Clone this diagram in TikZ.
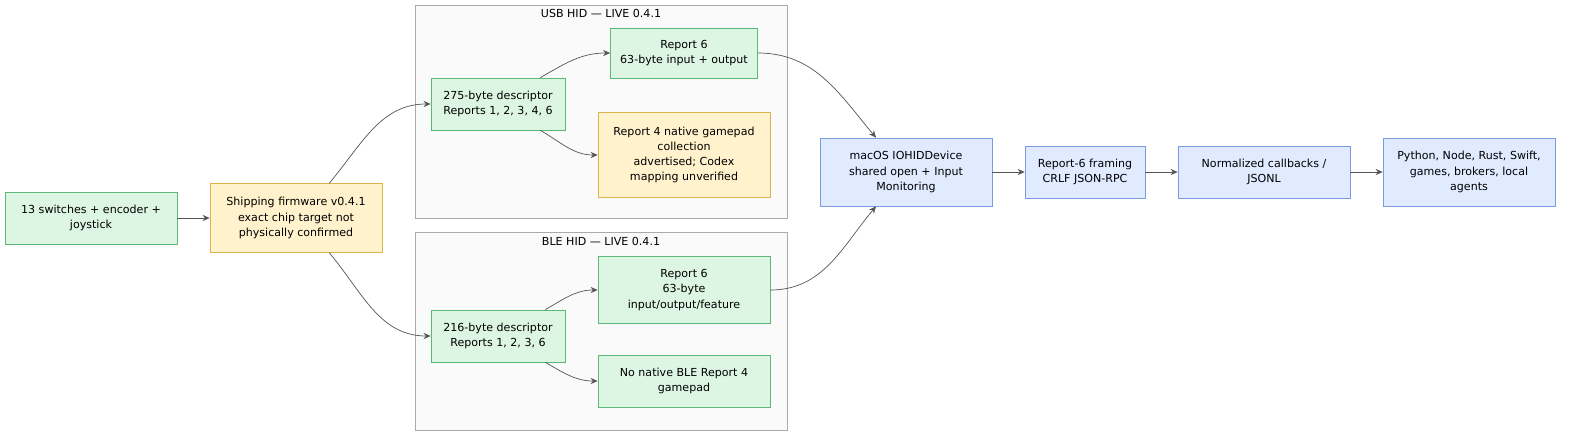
\documentclass[tikz,border=0pt]{standalone}
\usepackage{fontspec}
\setmainfont{DejaVu Sans}
\usetikzlibrary{arrows.meta}
\definecolor{grnF}{HTML}{DDF6E3}\definecolor{grnD}{HTML}{5DB878}
\definecolor{ylwF}{HTML}{FFF2CC}\definecolor{ylwD}{HTML}{D9B44A}
\definecolor{bluF}{HTML}{E0EBFF}\definecolor{bluD}{HTML}{7A9BE0}
\definecolor{grpF}{HTML}{FAFAFA}\definecolor{grpD}{HTML}{AAAAAA}
\definecolor{edg}{HTML}{555555}

\begin{document}
\begin{tikzpicture}[x=0.02cm, y=-0.02cm, font=\fontsize{6.3}{8.6}\selectfont]
\tikzstyle{boxg}=[rectangle, draw=grnD, fill=grnF, align=center, inner sep=0pt]
\tikzstyle{boxy}=[rectangle, draw=ylwD, fill=ylwF, align=center, inner sep=0pt]
\tikzstyle{boxb}=[rectangle, draw=bluD, fill=bluF, align=center, inner sep=0pt]
\tikzstyle{grp}=[draw=grpD, fill=grpF, thin]
\tikzstyle{drawstyle}=[draw=edg, thin, -{Stealth[length=4pt,width=3.5pt]}]

\useasboundingbox (0,0) rectangle (1584,443);

% clusters
\draw[grp] (415,5) rectangle (787,218);
\node (usbT) at (601,13) {USB HID — LIVE 0.4.1};
\draw[grp] (415,232) rectangle (787,430);
\node (bleT) at (601,241) {BLE HID — LIVE 0.4.1};

\node[boxg, minimum width=172*0.02cm, minimum height=52*0.02cm] (sw) at (91,218) {13 switches + encoder +\\joystick};
\node[boxy, minimum width=172*0.02cm, minimum height=69*0.02cm] (fw) at (296,218) {Shipping firmware v0.4.1\\exact chip target not\\physically confirmed};
\node[boxg, minimum width=134*0.02cm, minimum height=52*0.02cm] (usbd) at (498,104) {275-byte descriptor\\Reports 1, 2, 3, 4, 6};
\node[boxg, minimum width=147*0.02cm, minimum height=50*0.02cm] (usbr6) at (684,53) {Report 6\\63-byte input + output};
\node[boxy, minimum width=172*0.02cm, minimum height=85*0.02cm] (usbr4) at (684,155) {Report 4 native gamepad\\collection\\advertised; Codex\\mapping unverified};
\node[boxg, minimum width=134*0.02cm, minimum height=52*0.02cm] (bled) at (498,336) {216-byte descriptor\\Reports 1, 2, 3, 6};
\node[boxg, minimum width=172*0.02cm, minimum height=67*0.02cm] (bler6) at (684,290) {Report 6\\63-byte\\input/output/feature};
\node[boxg, minimum width=172*0.02cm, minimum height=52*0.02cm] (bler4) at (684,381) {No native BLE Report 4\\gamepad};
\node[boxb, minimum width=172*0.02cm, minimum height=68*0.02cm] (mac) at (906,172) {macOS IOHIDDevice\\shared open + Input\\Monitoring};
\node[boxb, minimum width=120*0.02cm, minimum height=52*0.02cm] (frm) at (1085,172) {Report-6 framing\\CRLF JSON-RPC};
\node[boxb, minimum width=172*0.02cm, minimum height=52*0.02cm] (cb) at (1264,172) {Normalized callbacks /\\JSONL};
\node[boxb, minimum width=172*0.02cm, minimum height=68*0.02cm] (app) at (1469,172) {Python, Node, Rust, Swift,\\games, brokers, local\\agents};

\draw[drawstyle] (sw) -- (fw);
\draw[drawstyle] (fw.north east) ++(-53,0) to[out=50,in=180] (usbd.west);
\draw[drawstyle] (fw.south east) ++(-53,0) to[out=-50,in=180] (bled.west);
\draw[drawstyle] (usbd.north east) ++(-25,0) to[out=30,in=180] (usbr6.west);
\draw[drawstyle] (usbd.south east) ++(-25,0) to[out=-30,in=180] (usbr4.west);
\draw[drawstyle] (bled.north east) ++(-20,0) to[out=30,in=180] (bler6.west);
\draw[drawstyle] (bled.south east) ++(-20,0) to[out=-30,in=180] (bler4.west);
\draw[drawstyle] (usbr6.east) to[out=0,in=130] ([xshift=-30*0.02cm]mac.north);
\draw[drawstyle] (bler6.east) to[out=0,in=-130] ([xshift=-30*0.02cm]mac.south);
\draw[drawstyle] (mac) -- (frm);
\draw[drawstyle] (frm) -- (cb);
\draw[drawstyle] (cb) -- (app);
\end{tikzpicture}
\end{document}
